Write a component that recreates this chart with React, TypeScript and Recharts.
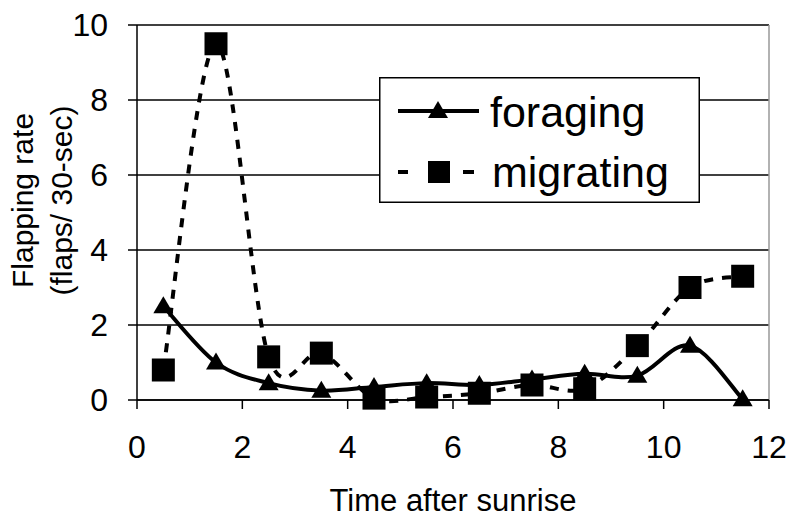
import { LineChart, Line, XAxis, YAxis, CartesianGrid, Legend, Label, ReferenceLine } from 'recharts';

const hours = [0.5, 1.5, 2.5, 3.5, 4.5, 5.5, 6.5, 7.5, 8.5, 9.5, 10.5, 11.5];
const foraging = [2.5, 1.0, 0.45, 0.25, 0.35, 0.45, 0.4, 0.55, 0.7, 0.65, 1.45, 0.02];
const migrating = [0.8, 9.5, 1.15, 1.25, 0.05, 0.08, 0.18, 0.4, 0.3, 1.45, 3.0, 3.3];
const xTicks = [0, 2, 4, 6, 8, 10, 12];
const yTicks = [0, 2, 4, 6, 8, 10];

const font = "'Liberation Sans', Arial, sans-serif";

// Excel-style smoothed line (Catmull-Rom through the points)
const smoothCurve = (context: any) => {
  let pts: number[][] = [];
  return {
    areaStart() {},
    areaEnd() {},
    lineStart() {
      pts = [];
    },
    point(x: number, y: number) {
      pts.push([+x, +y]);
    },
    lineEnd() {
      if (!pts.length) return;
      context.moveTo(pts[0][0], pts[0][1]);
      for (let i = 0; i < pts.length - 1; i++) {
        const p0 = pts[i - 1] || pts[i];
        const p1 = pts[i];
        const p2 = pts[i + 1];
        const p3 = pts[i + 2] || p2;
        context.bezierCurveTo(
          p1[0] + (p2[0] - p0[0]) / 6,
          p1[1] + (p2[1] - p0[1]) / 6,
          p2[0] - (p3[0] - p1[0]) / 6,
          p2[1] - (p3[1] - p1[1]) / 6,
          p2[0],
          p2[1]
        );
      }
    },
  };
};

const triangleDot = (p: any) => {
  const { cx, cy, index } = p;
  if (cx == null || cy == null) return <g key={index} />;
  return <path key={index} d={`M${cx},${cy - 10} L${cx + 10},${cy + 7} L${cx - 10},${cy + 7} Z`} fill="#000" />;
};

const squareDot = (p: any) => {
  const { cx, cy, index } = p;
  if (cx == null || cy == null) return <g key={index} />;
  return <rect key={index} x={cx - 11.5} y={cy - 11.5} width={23} height={23} fill="#000" />;
};

const XTitle = (props: any) => {
  const { x, y, width } = props.viewBox;
  return (
    <text x={x + width / 2} y={y + 111} textAnchor="middle" fontSize={31} fontFamily={font} fill="#000">
      Time after sunrise
    </text>
  );
};

const YTitle = (props: any) => {
  const { y, height } = props.viewBox;
  const cy = y + height / 2 - 12;
  return (
    <g fontSize={30} fontFamily={font} fill="#000">
      <text transform={`translate(33, ${cy}) rotate(-90)`} textAnchor="middle">Flapping rate</text>
      <text transform={`translate(72, ${cy}) rotate(-90)`} textAnchor="middle">(flaps/ 30-sec)</text>
    </g>
  );
};

const LegendBox = (props: any) => {
  const items = props.payload || [];
  return (
    <svg width={321} height={126} style={{ display: 'block' }}>
      <rect x={0.75} y={0.75} width={319.5} height={124.5} fill="#fff" stroke="#000" strokeWidth={1.5} />
      {items.map((item: any, i: number) => {
        const cy = i === 0 ? 34 : 95;
        const isForaging = item.dataKey === 'foraging';
        return (
          <g key={item.value}>
            {isForaging ? (
              <>
                <line x1={19} x2={100} y1={cy} y2={cy} stroke="#000" strokeWidth={4} />
                <path d={`M59,${cy - 10} L69,${cy + 7} L49,${cy + 7} Z`} fill="#000" />
              </>
            ) : (
              <>
                <line x1={19} x2={100} y1={cy} y2={cy} stroke="#000" strokeWidth={4} strokeDasharray="10 55 11" />
                <rect x={49} y={cy - 11} width={22} height={22} fill="#000" />
              </>
            )}
            <text x={isForaging ? 111 : 113} y={isForaging ? 50 : 110} fontSize={43} fontFamily={font} fill="#000">
              {item.value}
            </text>
          </g>
        );
      })}
    </svg>
  );
};

export default function App() {
  const data = hours.map((h, i) => ({ hour: h, foraging: foraging[i], migrating: migrating[i] }));

  return (
    <div style={{ position: 'absolute', left: 0, top: 0, width: 787, height: 519, background: '#fff' }}>
      <LineChart width={787} height={519} data={data} margin={{ top: 25, right: 18, bottom: 0, left: 0 }}>
        <CartesianGrid vertical={false} stroke="#000" strokeWidth={1.5} />
        <ReferenceLine x={12} stroke="#999" strokeWidth={1.5} />
        <XAxis
          dataKey="hour"
          type="number"
          domain={[0, 12]}
          ticks={xTicks}
          height={119}
          tickSize={9}
          tickMargin={26}
          axisLine={{ stroke: '#000', strokeWidth: 1.5 }}
          tickLine={{ stroke: '#000', strokeWidth: 1.5 }}
          tick={{ fill: '#000', fontSize: 32, fontFamily: font }}
        >
          <Label content={XTitle} />
        </XAxis>
        <YAxis
          type="number"
          domain={[0, 10]}
          ticks={yTicks}
          width={137}
          tickSize={9}
          tickMargin={20}
          axisLine={{ stroke: '#000', strokeWidth: 1.5 }}
          tickLine={{ stroke: '#000', strokeWidth: 1.5 }}
          tick={{ fill: '#000', fontSize: 32, fontFamily: font }}
        >
          <Label content={YTitle} />
        </YAxis>
        <Line
          dataKey="foraging"
          name="foraging"
          type={smoothCurve as any}
          stroke="#000"
          strokeWidth={4}
          dot={triangleDot}
          activeDot={false}
          isAnimationActive={false}
        />
        <Line
          dataKey="migrating"
          name="migrating"
          type={smoothCurve as any}
          stroke="#000"
          strokeWidth={4}
          strokeDasharray="9 9"
          dot={squareDot}
          activeDot={false}
          isAnimationActive={false}
        />
        <Legend
          layout="vertical"
          align="center"
          verticalAlign="middle"
          content={LegendBox}
          wrapperStyle={{ position: 'absolute', left: 379, top: 77, width: 321, height: 126 }}
        />
      </LineChart>
    </div>
  );
}
